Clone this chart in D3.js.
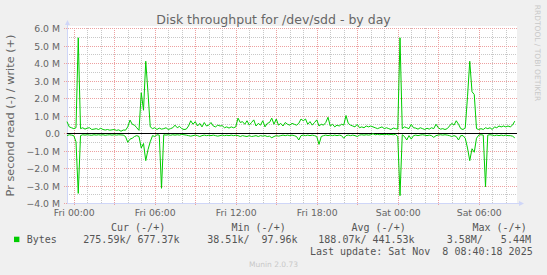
<!DOCTYPE html>
<html>
<head>
<meta charset="utf-8">
<script src="https://cdn.jsdelivr.net/npm/d3@7"></script>
<style>
  body { margin: 0; background: #f0f0f0; }
  svg { display: block; font-family: "DejaVu Sans", sans-serif; }
  .mono text { font-family: "DejaVu Sans Mono", monospace; white-space: pre; }
</style>
</head>
<body>
<div class="chart"></div>
<script>
// 10 minute samples, Thu 23:30 -> Sat 08:40 (UTC), values in MB/s
var startTime = Date.UTC(2025, 10, 6, 23, 30)
var endTime = Date.UTC(2025, 10, 8, 8, 50)
var stepMs = 10 * 60 * 1000

var writeM = [
  0.65,0.35,0.3,0.25,0.3,5.44,0.25,0.3,0.22,0.28,
  0.3,0.2,0.22,0.25,0.2,0.27,0.2,0.17,0.2,0.16,
  0.18,0.2,0.15,0.18,0.1,0.17,0.16,0.35,0.74,0.5,
  0.45,0.3,0.15,2.3,1.3,4.1,2.3,0.35,0.25,0.3,
  0.2,0.28,0.22,0.25,0.3,0.2,0.25,0.3,0.45,0.3,
  0.38,0.25,0.2,0.22,0.4,0.7,0.5,0.65,0.4,0.55,
  0.35,0.6,0.4,0.45,0.6,0.4,0.35,0.45,0.4,0.42,
  0.3,0.35,0.28,0.35,0.3,0.35,0.85,0.6,0.65,0.5,
  0.7,0.45,0.6,0.75,0.4,0.55,0.45,0.7,0.35,0.55,
  0.6,0.85,0.5,0.8,0.45,0.55,0.4,0.6,0.5,0.45,
  0.55,0.5,0.45,0.55,0.8,0.7,0.8,0.5,0.65,0.45,
  0.6,0.75,0.4,0.5,0.45,0.6,0.9,0.4,0.5,0.35,
  0.45,0.4,0.5,0.45,1.0,0.55,0.45,0.4,0.35,0.5,
  0.3,0.35,0.3,0.4,0.35,0.4,0.35,0.3,0.25,0.3,
  0.35,0.25,0.3,0.25,0.2,0.28,0.25,0.22,5.44,0.25,
  0.35,0.3,0.25,0.5,0.3,0.28,0.22,0.3,0.25,0.2,
  0.27,0.22,0.3,0.25,0.5,0.3,0.22,0.25,0.2,0.25,
  0.4,0.55,0.45,0.7,0.5,0.25,0.2,0.3,2.07,4.1,
  2.36,2.2,0.25,0.2,0.25,0.2,0.3,0.25,0.3,0.2,
  0.35,0.3,0.4,0.35,0.4,0.35,0.4,0.35,0.45,0.677
]
var readM = [
  0.15,0.1,0.12,0.15,0.5,3.45,0.15,0.1,0.12,0.1,
  0.12,0.13,0.1,0.12,0.1,0.12,0.1,0.13,0.11,0.1,
  0.12,0.1,0.12,0.1,0.11,0.12,0.2,0.53,0.35,0.3,
  0.2,0.15,0.2,0.86,0.6,1.58,0.95,0.5,0.15,0.2,
  0.1,0.12,3.16,0.1,0.12,0.1,0.13,0.1,0.12,0.1,
  0.12,0.08,0.1,0.12,0.15,0.18,0.15,0.12,0.15,0.2,
  0.15,0.12,0.15,0.13,0.15,0.12,0.15,0.18,0.15,0.12,
  0.15,0.13,0.15,0.12,0.15,0.13,0.15,0.2,0.15,0.18,
  0.2,0.15,0.2,0.18,0.15,0.2,0.15,0.18,0.15,0.2,
  0.18,0.27,0.2,0.15,0.18,0.15,0.12,0.15,0.12,0.15,
  0.12,0.15,0.2,0.4,0.15,0.12,0.15,0.12,0.15,0.12,
  0.15,0.2,0.65,0.2,0.15,0.12,0.15,0.12,0.15,0.12,
  0.15,0.12,0.15,0.3,0.15,0.12,0.15,0.12,0.15,0.2,
  0.12,0.1,0.12,0.1,0.12,0.1,0.04,0.1,0.08,0.1,
  0.08,0.1,0.08,0.1,0.08,0.1,0.08,0.2,3.58,0.1,
  0.2,0.4,0.15,0.35,0.15,0.12,0.15,0.12,0.1,0.12,
  0.15,0.12,0.15,0.25,0.15,0.12,0.1,0.12,0.1,0.12,
  0.15,0.2,0.15,0.2,0.4,0.15,0.15,0.3,0.86,1.58,
  0.9,1.1,0.3,0.12,0.1,0.12,3.07,0.12,0.1,0.12,
  0.15,0.12,0.15,0.12,0.15,0.12,0.15,0.15,0.18,0.276
]

var legendHeads = ["Cur (-/+)", "Min (-/+)", "Avg (-/+)", "Max (-/+)"]
var legendVals = ["275.59k/ 677.37k", "38.51k/  97.96k", "188.07k/ 441.53k", "3.58M/   5.44M"]

var W = 547, H = 275
var pLeft = 67, pRight = 517, pTop = 28, pBottom = 203

var svg = d3.select(".chart").append("svg")
  .attr("width", W).attr("height", H)

svg.append("rect").attr("width", W).attr("height", H).attr("fill", "#f0f0f0")
svg.append("rect").attr("x", pLeft).attr("y", pTop - 2)
  .attr("width", pRight - pLeft).attr("height", pBottom - pTop + 2).attr("fill", "#fff")

var x = d3.scaleTime().domain([new Date(startTime), new Date(endTime)]).range([pLeft, pRight])
var y = d3.scaleLinear().domain([-4e6, 6e6]).range([pBottom, pTop])

// grid
var hours = d3.utcHour.range(new Date(startTime), new Date(endTime))
var gridY = d3.range(-4e6, 6e6 + 1, 5e5)

svg.append("g").selectAll("line").data(gridY.filter(function(v){ return v % 1e6 != 0 }))
  .enter().append("line")
    .attr("x1", pLeft).attr("x2", pRight)
    .attr("y1", function(d){ return Math.round(y(d)) + 0.5 }).attr("y2", function(d){ return Math.round(y(d)) + 0.5 })
    .attr("stroke", "#c8c8c8").attr("stroke-dasharray", "1,1")
svg.append("g").selectAll("line").data(hours.filter(function(d){ return d.getUTCHours() % 3 != 0 }))
  .enter().append("line")
    .attr("x1", function(d){ return Math.round(x(d)) + 0.5 }).attr("x2", function(d){ return Math.round(x(d)) + 0.5 })
    .attr("y1", pTop).attr("y2", pBottom)
    .attr("stroke", "#c8c8c8").attr("stroke-dasharray", "1,1")

svg.append("g").selectAll("line").data(gridY.filter(function(v){ return v % 1e6 == 0 }))
  .enter().append("line")
    .attr("x1", pLeft - 3).attr("x2", pRight)
    .attr("y1", function(d){ return Math.round(y(d)) + 0.5 }).attr("y2", function(d){ return Math.round(y(d)) + 0.5 })
    .attr("stroke", "#eda0a0").attr("stroke-dasharray", "1,1")
svg.append("g").selectAll("line").data(hours.filter(function(d){ return d.getUTCHours() % 3 == 0 }))
  .enter().append("line")
    .attr("x1", function(d){ return Math.round(x(d)) + 0.5 }).attr("x2", function(d){ return Math.round(x(d)) + 0.5 })
    .attr("y1", pTop).attr("y2", pBottom + 3)
    .attr("stroke", "#eda0a0").attr("stroke-dasharray", "1,1")

// axes
var xAxis = d3.axisBottom(x)
  .tickValues(hours.filter(function(d){ return d.getUTCHours() % 6 == 0 }))
  .tickFormat(d3.utcFormat("%a %H:%M"))
  .tickSize(0).tickPadding(6)
var yAxis = d3.axisLeft(y)
  .tickValues(d3.range(-4e6, 6e6 + 1, 1e6))
  .tickFormat(function(v){ return v == 0 ? "0.0" : d3.format(".1f")(v / 1e6) + " M" })
  .tickSize(0).tickPadding(7)

svg.append("g").attr("class", "axis x")
  .attr("transform", "translate(0," + pBottom + ")")
  .call(xAxis)
svg.append("g").attr("class", "axis y")
  .attr("transform", "translate(" + pLeft + ",0)")
  .call(yAxis)
svg.selectAll(".axis .domain").remove()
svg.selectAll(".axis text").attr("fill", "#666").style("font-size", "9.3px")
  .style("font-family", "'DejaVu Sans', sans-serif")
svg.selectAll(".axis.y text").attr("dy", "0.4em")

// axis lines with arrows
svg.append("line").attr("x1", pLeft + 0.5).attr("x2", pLeft + 0.5).attr("y1", pBottom + 0.5).attr("y2", pTop - 6)
  .attr("stroke", "#cfd6f8")
svg.append("path").attr("d", "M" + (pLeft - 2) + "," + (pTop - 3) + "L" + (pLeft + 0.5) + "," + (pTop - 8) + "L" + (pLeft + 3) + "," + (pTop - 3) + "Z")
  .attr("fill", "#cfd6f8")
svg.append("line").attr("x1", pLeft).attr("x2", pRight + 5).attr("y1", pBottom + 0.5).attr("y2", pBottom + 0.5)
  .attr("stroke", "#cfd6f8")
svg.append("path").attr("d", "M" + (pRight + 2) + "," + (pBottom - 2) + "L" + (pRight + 7) + "," + (pBottom + 0.5) + "L" + (pRight + 2) + "," + (pBottom + 3) + "Z")
  .attr("fill", "#cfd6f8")

// zero line
svg.append("line").attr("x1", pLeft).attr("x2", pRight)
  .attr("y1", Math.round(y(0)) + 0.5).attr("y2", Math.round(y(0)) + 0.5).attr("stroke", "#000")

// series
var writeData = writeM.map(function(v, i){ return { t: new Date(startTime + i * stepMs), v: v * 1e6 } })
var readData = readM.map(function(v, i){ return { t: new Date(startTime + i * stepMs), v: -v * 1e6 } })
var line = d3.line().x(function(d){ return x(d.t) }).y(function(d){ return y(d.v) })

svg.append("path").datum(readData).attr("d", line)
  .attr("fill", "none").attr("stroke", "#00cc00").attr("stroke-width", 1)
svg.append("path").datum(writeData).attr("d", line)
  .attr("fill", "none").attr("stroke", "#00cc00").attr("stroke-width", 1)

// titles
svg.append("text").attr("x", 273.5).attr("y", 24).attr("text-anchor", "middle")
  .attr("fill", "#666").style("font-size", "12.5px")
  .text("Disk throughput for /dev/sdd - by day")
svg.append("text").attr("transform", "translate(14," + ((pTop + pBottom) / 2) + ") rotate(-90)")
  .attr("text-anchor", "middle").attr("fill", "#666").style("font-size", "11.3px")
  .text("Pr second read (-) / write (+)")
svg.append("text").attr("transform", "translate(535,53) rotate(90)")
  .attr("text-anchor", "middle").attr("fill", "#c8c8c8").style("font-size", "7.5px")
  .text("RRDTOOL / TOBI OETIKER")

// legend
var legend = svg.append("g").attr("class", "mono").style("font-size", "10px").attr("fill", "#555")
var headX = [111, 231.5, 351.5, 472.5]
var valX = [83.3, 207.3, 318.3, 446.7]
legend.selectAll(".head").data(legendHeads).enter().append("text")
  .attr("class", "head").attr("xml:space", "preserve")
  .attr("x", function(d, i){ return headX[i] }).attr("y", 231).text(function(d){ return d })
legend.selectAll(".val").data(legendVals).enter().append("text")
  .attr("class", "val").attr("xml:space", "preserve")
  .attr("x", function(d, i){ return valX[i] }).attr("y", 243).text(function(d){ return d })
legend.append("text").attr("x", 26.7).attr("y", 243).text("Bytes")
legend.append("text").attr("xml:space", "preserve").attr("x", 532.7).attr("y", 254.5).attr("text-anchor", "end")
  .text("Last update: Sat Nov  8 08:40:18 2025")
svg.append("rect").attr("x", 14).attr("y", 236.7).attr("width", 5.4).attr("height", 5.4).attr("fill", "#00cc00")

svg.append("text").attr("x", 273.5).attr("y", 266.5).attr("text-anchor", "middle")
  .attr("fill", "#c8c8c8").style("font-size", "7.5px").text("Munin 2.0.73")
</script>
</body>
</html>
